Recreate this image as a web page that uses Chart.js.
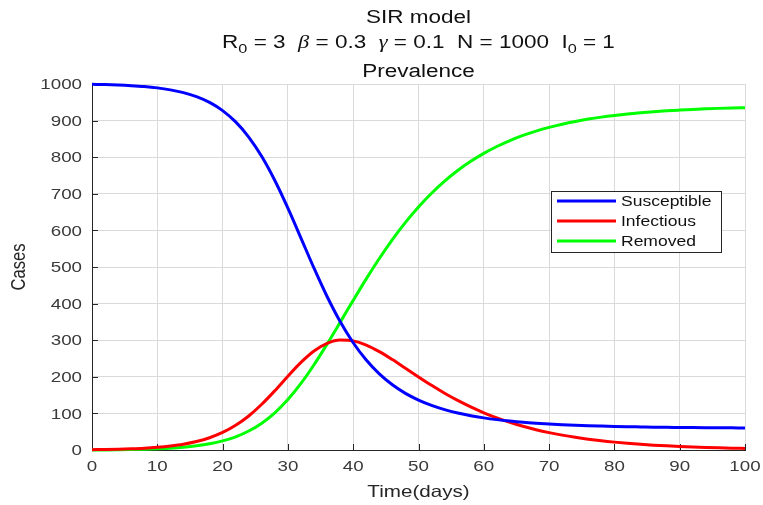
<!DOCTYPE html>
<html>
<head>
<meta charset="utf-8">
<script src="https://cdn.jsdelivr.net/npm/chart.js@4.4.1/dist/chart.umd.min.js"></script>
<style>
  html, body { margin: 0; padding: 0; background: #ffffff; }
  canvas { display: block; }
</style>
</head>
<body>
<canvas id="c" width="763" height="505"></canvas>
<script>
// ---- Data ----
const days = [0,2,4,6,8,10,12,14,16,18,20,22,24,26,28,30,32,34,36,38,40,42,44,46,48,50,52,54,56,58,60,62,64,66,68,70,72,74,76,78,80,82,84,86,88,90,92,94,96,98,100];
const susceptible = [999,998.3,997.2,995.5,993.1,989.4,984.0,976.5,965.4,949.6,927.3,896.4,855.1,801.8,736.3,660.7,579.0,496.7,419.4,350.9,293.0,245.7,207.9,178.1,154.7,136.3,121.8,110.3,101.1,93.7,87.8,83.0,79.1,75.8,73.2,71.0,69.2,67.6,66.3,65.3,64.4,63.6,63.0,62.4,61.9,61.6,61.2,60.9,60.7,60.5,60.3];
const infectious = [1,1.5,2.2,3.3,4.9,7.4,11.0,15.9,23.2,33.5,47.9,67.5,93.0,124.9,162.0,201.5,239.2,270.4,291.3,300.4,298.2,286.8,268.9,247.1,223.5,199.7,176.7,155.1,135.4,117.6,101.7,87.7,75.4,64.8,55.5,47.5,40.6,34.7,29.6,25.2,21.5,18.3,15.6,13.3,11.3,9.6,8.2,7.0,5.9,5.0,4.3];
const removed = [0,0.2,0.6,1.2,2.0,3.2,5.0,7.6,11.4,16.9,24.8,36.1,51.9,73.3,101.7,137.8,181.8,232.9,289.3,348.7,408.8,467.5,523.2,574.8,621.8,664.0,701.5,734.6,763.5,788.7,810.5,829.3,845.5,859.4,871.3,881.5,890.2,897.7,904.1,909.5,914.1,918.1,921.4,924.3,926.8,928.8,930.6,932.1,933.4,934.5,935.4];
const seriesNames = ["Susceptible", "Infectious", "Removed"];
const xTickValues = [0,10,20,30,40,50,60,70,80,90,100];
const yTickValues = [0,100,200,300,400,500,600,700,800,900,1000];
const titleLine1 = "SIR model";
const titleLine3 = "Prevalence";
const xAxisTitle = "Time(days)";
const yAxisTitle = "Cases";

// ---- Styling ----
const colors = ["#0000ff", "#ff0000", "#00ff00"];
const FONT = '"Liberation Sans", Arial, sans-serif';
const SERIF = '"Liberation Serif", "DejaVu Serif", serif';
const SX = 1.25; // horizontal stretch of the reference's text
const AX = "#262626";

function pts(vals) { return days.map((d, i) => ({ x: d, y: vals[i] })); }

function sText(ctx, txt, x, y, font, color, align, baseline) {
  ctx.save();
  ctx.font = font;
  ctx.fillStyle = color;
  ctx.textAlign = align || "left";
  ctx.textBaseline = baseline || "alphabetic";
  ctx.translate(x, y);
  ctx.scale(SX, 1);
  ctx.fillText(txt, 0, 0);
  ctx.restore();
}

const decor = {
  id: "decor",
  beforeDatasetsDraw(chart) {
    const ctx = chart.ctx, ca = chart.chartArea;
    const xs = chart.scales.x, ys = chart.scales.y;
    ctx.save();
    ctx.strokeStyle = AX;
    ctx.lineWidth = 1;
    ctx.beginPath();
    xs.ticks.forEach(t => {
      const px = Math.round(xs.getPixelForValue(t.value)) + 0.5;
      ctx.moveTo(px, ca.bottom); ctx.lineTo(px, ca.bottom - 6);
    });
    ys.ticks.forEach(t => {
      const py = Math.round(ys.getPixelForValue(t.value)) + 0.5;
      ctx.moveTo(ca.left, py); ctx.lineTo(ca.left + 6, py);
    });
    ctx.stroke();
    ctx.restore();
  },
  afterDraw(chart) {
    const ctx = chart.ctx, ca = chart.chartArea;
    const xs = chart.scales.x, ys = chart.scales.y;
    const cx = (ca.left + ca.right) / 2;
    const tickFont = "15px " + FONT;
    const tickCol = "#3a3a3a";
    // tick labels
    xs.ticks.forEach(t => {
      sText(ctx, String(t.value), xs.getPixelForValue(t.value), ca.bottom + 17, tickFont, tickCol, "center", "middle");
    });
    ys.ticks.forEach(t => {
      sText(ctx, String(t.value), ca.left - 10, ys.getPixelForValue(t.value) + 1, tickFont, tickCol, "right", "middle");
    });
    // axis titles
    sText(ctx, xAxisTitle, cx, 492, "16.5px " + FONT, "#262626", "center", "middle");
    ctx.save();
    ctx.font = "16.5px " + FONT;
    ctx.fillStyle = "#262626";
    ctx.textAlign = "center";
    ctx.textBaseline = "middle";
    ctx.translate(19, (ca.top + ca.bottom) / 2);
    ctx.rotate(-Math.PI / 2);
    ctx.scale(1, SX);
    ctx.fillText(yAxisTitle, 0, 0);
    ctx.restore();
    // titles
    const tf = "18px " + FONT;
    sText(ctx, titleLine1, cx, 23, tf, "#111", "center");
    sText(ctx, titleLine3, cx, 77, tf, "#111", "center");
    // line 2 with subscripts and greek letters
    const segs = [
      { t: "R" }, { t: "0", sub: true }, { t: " = 3  " },
      { t: "\u03b2", it: true }, { t: " = 0.3  " },
      { t: "\u03b3", it: true }, { t: " = 0.1  N = 1000  " },
      { t: "I" }, { t: "0", sub: true }, { t: " = 1" }
    ];
    const fontOf = s => s.sub ? "13px " + FONT : (s.it ? "italic 18px " + SERIF : tf);
    ctx.save();
    let W = 0;
    segs.forEach(s => { ctx.font = fontOf(s); s.w = ctx.measureText(s.t).width; W += s.w; });
    ctx.translate(cx - W * SX / 2, 48);
    ctx.scale(SX, 1);
    ctx.fillStyle = "#111";
    ctx.textBaseline = "alphabetic";
    ctx.textAlign = "left";
    let xx = 0;
    segs.forEach(s => {
      ctx.font = fontOf(s);
      ctx.fillText(s.t, xx, s.sub ? 5 : 0);
      xx += s.w;
    });
    ctx.restore();
    // legend
    const lx = 551, ly = 191, lw = 170, lh = 61;
    ctx.save();
    ctx.fillStyle = "#ffffff";
    ctx.fillRect(lx, ly, lw, lh);
    ctx.strokeStyle = "#262626";
    ctx.lineWidth = 1;
    ctx.strokeRect(lx + 0.5, ly + 0.5, lw, lh);
    const rows = [201, 221, 241];
    chart.data.datasets.forEach((ds, i) => {
      ctx.strokeStyle = ds.borderColor;
      ctx.lineWidth = 3;
      ctx.beginPath();
      ctx.moveTo(557, rows[i]); ctx.lineTo(616, rows[i]);
      ctx.stroke();
      sText(ctx, ds.label, 621, rows[i] + 1, "14px " + FONT, "#111", "left", "middle");
    });
    ctx.restore();
  }
};

new Chart(document.getElementById("c"), {
  type: "line",
  data: {
    datasets: [
      { label: seriesNames[0], data: pts(susceptible), borderColor: colors[0] },
      { label: seriesNames[1], data: pts(infectious), borderColor: colors[1] },
      { label: seriesNames[2], data: pts(removed), borderColor: colors[2] }
    ]
  },
  options: {
    responsive: false,
    animation: false,
    devicePixelRatio: 1,
    layout: { padding: { top: 84, right: 18, left: 0, bottom: 0 } },
    elements: {
      line: { borderWidth: 3, cubicInterpolationMode: "monotone", fill: false },
      point: { radius: 0, hoverRadius: 0 }
    },
    datasets: { line: { clip: false } },
    plugins: { legend: { display: false }, title: { display: false }, tooltip: { enabled: false } },
    scales: {
      x: {
        type: "linear", min: 0, max: 100,
        afterBuildTicks: s => { s.ticks = xTickValues.map(v => ({ value: v })); },
        afterFit: s => { s.height = 55; },
        ticks: { display: false },
        grid: { color: "#dadada", lineWidth: 1, drawTicks: false, tickLength: 0 },
        border: { display: true, color: AX, width: 1 }
      },
      y: {
        type: "linear", min: 0, max: 1000,
        afterBuildTicks: s => { s.ticks = yTickValues.map(v => ({ value: v })); },
        afterFit: s => { s.width = 92; },
        ticks: { display: false },
        grid: { color: "#dadada", lineWidth: 1, drawTicks: false, tickLength: 0 },
        border: { display: true, color: AX, width: 1 }
      }
    }
  },
  plugins: [decor]
});
</script>
</body>
</html>
